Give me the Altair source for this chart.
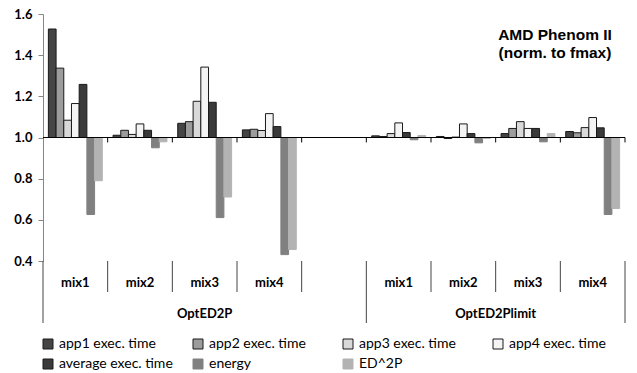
import altair as alt
import pandas as pd

# ---------------- data ----------------
series = ["app1 exec. time", "app2 exec. time", "app3 exec. time", "app4 exec. time",
          "average exec. time", "energy", "ED^2P"]
group_names = ["OptED2P", "OptED2Plimit"]
mix_names = ["mix1", "mix2", "mix3", "mix4"]

# values per mix, in series order (normalised to fmax)
opt_values = {
    "mix1": [1.527, 1.337, 1.084, 1.165, 1.258, 0.626, 0.790],
    "mix2": [1.011, 1.035, 1.015, 1.066, 1.035, 0.950, 0.979],
    "mix3": [1.069, 1.077, 1.176, 1.342, 1.171, 0.611, 0.711],
    "mix4": [1.037, 1.040, 1.034, 1.116, 1.053, 0.431, 0.456],
}
limit_values = {
    "mix1": [1.008, 1.005, 1.019, 1.071, 1.024, 0.989, 1.010],
    "mix2": [1.005, 0.995, 1.002, 1.066, 1.019, 0.974, 0.995],
    "mix3": [1.019, 1.044, 1.077, 1.044, 1.044, 0.979, 1.019],
    "mix4": [1.029, 1.023, 1.048, 1.097, 1.047, 0.626, 0.655],
}
title_lines = ["AMD Phenom II", "(norm. to fmax)"]
y_ticks = [0.4, 0.6, 0.8, 1.0, 1.2, 1.4, 1.6]
baseline = 1.0

fills = ["#454545", "#9c9c9c", "#d9d9d9", "#f4f4f4", "#3a3a3a", "#808080", "#b3b3b3"]
strokes = ["#1a1a1a", "#1a1a1a", "#1a1a1a", "#1a1a1a", "#1a1a1a", "#808080", "#b3b3b3"]

# ---------------- tables ----------------
slots = ([f"OptED2P|{m}" for m in mix_names] + ["OptED2P|"] +
         [f"OptED2Plimit|{m}" for m in mix_names])

rows = []
for grp, vals in (("OptED2P", opt_values), ("OptED2Plimit", limit_values)):
    for m in mix_names:
        for s, v in zip(series, vals[m]):
            rows.append({"slot": f"{grp}|{m}", "series": s, "value": v})
bar_df = pd.DataFrame(rows)

label_df = pd.DataFrame({"slot": [s for s in slots if s.split("|")[1]],
                         "label": [s.split("|")[1] for s in slots if s.split("|")[1]]})
slot_df = pd.DataFrame({"slot": slots})
short_sep_df = pd.DataFrame({"slot": slots[0:4] + slots[5:8]})
long_sep_right_df = pd.DataFrame({"slot": [slots[4], slots[8]]})
long_sep_left_df = pd.DataFrame({"slot": [slots[0]]})
grp1_df = pd.DataFrame({"slot": ["OptED2P|mix3"], "label": [group_names[0]]})
grp2_df = pd.DataFrame({"slot": ["OptED2Plimit|mix3"], "label": [group_names[1]]})

W, H = 582, 247
xscale = alt.Scale(domain=slots, paddingInner=0, paddingOuter=0)
yscale = alt.Scale(domain=[0.4, 1.6], nice=False, zero=False)

legend = alt.Legend(orient="none", legendX=-2, legendY=323, columns=4, direction="horizontal",
                    title=None, symbolType="square", symbolSize=100, symbolStrokeWidth=1,
                    labelFont="Lato", labelFontSize=14, labelColor="black", labelOffset=4,
                    columnPadding=18, rowPadding=6, gridAlign="all", labelLimit=300)

bars = alt.Chart(bar_df).mark_bar(strokeWidth=1).encode(
    x=alt.X("slot:N", scale=xscale, axis=None),
    xOffset=alt.XOffset("series:N", sort=series,
                        scale=alt.Scale(domain=series, paddingOuter=0.7, paddingInner=0)),
    y=alt.Y("value:Q", scale=yscale,
            axis=alt.Axis(values=y_ticks, format=".1f", grid=False, title=None,
                          domainColor="#868686", tickColor="#868686", tickSize=5,
                          labelPadding=6, labelFont="Lato", labelFontSize=13,
                          labelFontWeight="bold", labelColor="black")),
    y2=alt.datum(baseline),
    fill=alt.Fill("series:N", sort=series, scale=alt.Scale(domain=series, range=fills), legend=legend),
    stroke=alt.Stroke("series:N", sort=series, scale=alt.Scale(domain=series, range=strokes), legend=legend),
)

base_rule = alt.Chart(slot_df).mark_rule(color="black", strokeWidth=1).encode(
    y=alt.datum(baseline))

base_ticks = alt.Chart(slot_df).mark_rule(color="black", strokeWidth=1).encode(
    x=alt.X("slot:N", scale=xscale, axis=None, bandPosition=1),
    y=alt.datum(baseline), y2=alt.datum(baseline - 0.024))

short_sep = alt.Chart(short_sep_df).mark_rule(color="#444", strokeWidth=1).encode(
    x=alt.X("slot:N", scale=xscale, axis=None, bandPosition=1),
    y=alt.value(H), y2=alt.value(H + 31))

long_sep_r = alt.Chart(long_sep_right_df).mark_rule(color="#444", strokeWidth=1).encode(
    x=alt.X("slot:N", scale=xscale, axis=None, bandPosition=1),
    y=alt.value(H), y2=alt.value(H + 62))

long_sep_l = alt.Chart(long_sep_left_df).mark_rule(color="#444", strokeWidth=1).encode(
    x=alt.X("slot:N", scale=xscale, axis=None, bandPosition=0),
    y=alt.value(H), y2=alt.value(H + 62))

mix_text = alt.Chart(label_df).mark_text(font="Lato", fontSize=13, fontWeight="bold",
                                         color="black", baseline="middle").encode(
    x=alt.X("slot:N", scale=xscale, axis=None),
    y=alt.value(H + 22), text="label:N")

grp1_text = alt.Chart(grp1_df).mark_text(font="Lato", fontSize=13, fontWeight="bold",
                                         color="black", baseline="middle").encode(
    x=alt.X("slot:N", scale=xscale, axis=None),
    y=alt.value(H + 53), text="label:N")

grp2_text = alt.Chart(grp2_df).mark_text(font="Lato", fontSize=13, fontWeight="bold",
                                         color="black", baseline="middle").encode(
    x=alt.X("slot:N", scale=xscale, axis=None, bandPosition=0),
    y=alt.value(H + 53), text="label:N")

title = alt.Chart(slot_df.head(1)).mark_text(font="Liberation Sans", fontSize=15.5, fontWeight="bold",
                                             color="black", align="center", baseline="middle",
                                             lineHeight=18).encode(
    x=alt.value(512), y=alt.value(21), text=alt.value(title_lines))

chart = alt.layer(
    bars, base_rule, base_ticks, short_sep, long_sep_r, long_sep_l,
    mix_text, grp1_text, grp2_text, title
).properties(
    width=W, height=H,
    autosize=alt.AutoSizeParams(type="none"),
    padding={"left": 35, "top": 6, "right": 4, "bottom": 112},
    background="white",
).configure_view(stroke=None)

chart.save("out.html", embed_options={"renderer": "svg", "actions": False})
